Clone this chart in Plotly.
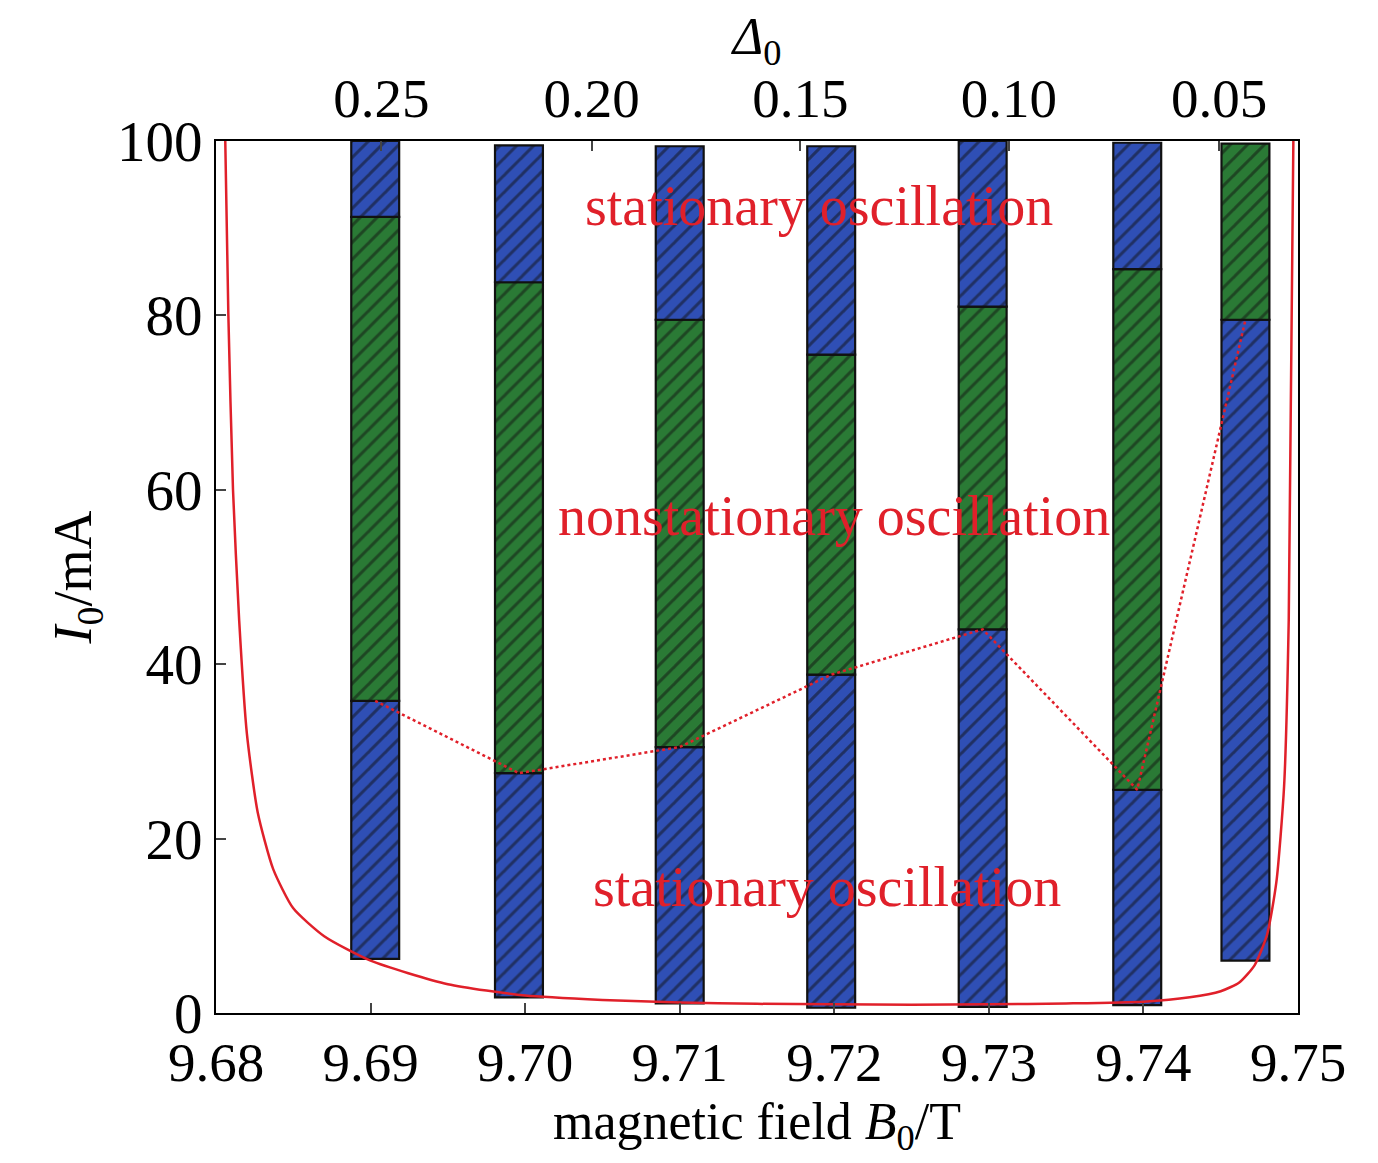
import plotly.graph_objects as go

bx = [9.6903, 9.6996, 9.7100, 9.7198, 9.7296, 9.7396, 9.7466]
b_bottom = [6.2, 1.8, 1.1, 0.6, 0.7, 0.9, 6.0]
b_low = [35.8, 27.5, 30.5, 38.8, 44.0, 25.6, 79.5]
b_high = [91.3, 83.8, 79.5, 75.5, 81.0, 85.3, 99.7]
b_top = [100.0, 99.5, 99.4, 99.4, 100.0, 99.8]

cx = [9.6806, 9.6808, 9.6811, 9.6815, 9.6820, 9.6827, 9.6837, 9.6850, 9.6870, 9.6900, 9.6950,
      9.7000, 9.7050, 9.7100, 9.7150, 9.7200, 9.7250, 9.7300, 9.7350, 9.7400, 9.7430, 9.7450,
      9.7462, 9.7472, 9.7480, 9.7486, 9.7491, 9.7494, 9.7497]
cy = [100, 80, 60, 45, 32, 23, 16.5, 12, 8.8, 6.0, 3.3, 2.0, 1.5, 1.2, 1.05, 1.0, 0.95, 1.0,
      1.1, 1.3, 1.8, 2.5, 3.5, 5.5, 9, 15, 26, 45, 100]

delta_vals = [9.6907, 9.7043, 9.7178, 9.7313, 9.7449]
delta_text = ["0.25", "0.20", "0.15", "0.10", "0.05"]

blue = "#2f4fb5"
green = "#2a7a35"
W = 0.0031
F = "Liberation Serif"

fig = go.Figure()
def seg(xs, base, top, color):
    fig.add_trace(go.Bar(x=xs, y=[t - b for b, t in zip(base, top)], base=base, width=W,
                         marker=dict(color=color, line=dict(color="#111", width=2.2),
                                     pattern=dict(shape="/", fgcolor="#111", bgcolor=color, size=12, solidity=0.25)),
                         showlegend=False))
seg(bx, b_bottom, b_low, blue)
seg(bx, b_low, b_high, green)
seg(bx[:6], b_high[:6], b_top, blue)

fig.add_trace(go.Scatter(x=bx, y=b_low, mode="lines", line=dict(color="#e0202a", width=2.5, dash="dot"), showlegend=False))
fig.add_trace(go.Scatter(x=cx, y=cy, mode="lines", line=dict(color="#e0202a", width=2.5, shape="spline", smoothing=0.6), showlegend=False))
fig.add_trace(go.Scatter(x=[delta_vals[0]], y=[-10], xaxis="x2", mode="markers", marker=dict(opacity=0), showlegend=False))

for t, x, y in [("stationary oscillation", 9.7190, 92.5), ("nonstationary oscillation", 9.7200, 57),
                ("stationary oscillation", 9.7195, 14.5)]:
    fig.add_annotation(x=x, y=y, text=t, showarrow=False, font=dict(family=F, size=56, color="#e0202a"))

fig.update_layout(
    width=1378, height=1163, plot_bgcolor="white", paper_bgcolor="white", barmode="overlay",
    margin=dict(l=208, r=88, t=133, b=158),
    font=dict(family=F, size=57, color="black"),
    xaxis=dict(range=[9.68, 9.75], tickvals=[9.68, 9.69, 9.70, 9.71, 9.72, 9.73, 9.74, 9.75],
               ticktext=["9.68", "9.69", "9.70", "9.71", "9.72", "9.73", "9.74", "9.75"],
               ticks="inside", ticklen=10, tickwidth=2, showline=True, linecolor="black", linewidth=2,
               showgrid=False, zeroline=False, tickfont=dict(size=55),
               title=dict(text="magnetic field <i>B</i><sub>0</sub>/T", font=dict(size=52), standoff=0)),
    xaxis2=dict(range=[9.68, 9.75], overlaying="x", side="top", tickvals=delta_vals, ticktext=delta_text,
                ticks="inside", ticklen=10, tickwidth=2, showline=True, linecolor="black", linewidth=2,
                showgrid=False, zeroline=False, tickfont=dict(size=55),
                title=dict(text="<i>Δ</i><sub>0</sub>", font=dict(size=52), standoff=0)),
    yaxis=dict(range=[0, 100], tickvals=[0, 20, 40, 60, 80, 100], ticks="inside", ticklen=10, tickwidth=2,
               showline=True, linecolor="black", linewidth=2, mirror=True, showgrid=False, zeroline=False,
               title=dict(text="<i>I</i><sub>0</sub>/mA", font=dict(size=54), standoff=8)),
)
fig.write_html("out.html")
